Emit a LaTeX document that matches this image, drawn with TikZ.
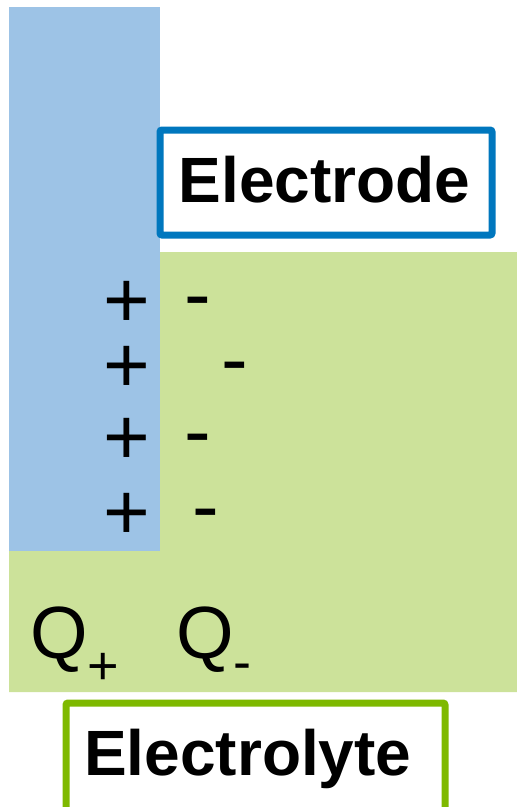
\documentclass[tikz,border=0pt]{standalone}
\usepackage{fontspec}
\setmainfont{Liberation Sans}
\definecolor{elblue}{RGB}{157,195,230}
\definecolor{elgreen}{RGB}{204,226,154}
\definecolor{boxblue}{RGB}{0,119,190}
\definecolor{boxgreen}{RGB}{126,185,0}
\tikzset{
  lbl/.style={inner sep=0pt, anchor=base west, font=\fontsize{64}{64}\selectfont\bfseries},
  sgn/.style={inner sep=0pt, anchor=base, text height=40pt, text depth=0pt, font=\fontsize{80}{80}\selectfont},
  qlbl/.style={inner sep=0pt, anchor=base west},
  labelbox/.style={line width=7pt, rounded corners=2pt, fill=white}
}
\newcommand{\qsym}[2]{{\fontsize{74}{74}\selectfont Q}\raisebox{#2}{\fontsize{54}{54}\selectfont #1}}
\begin{document}
\begin{tikzpicture}[x=1pt,y=-1pt]
\useasboundingbox (0,0) rectangle (517,807);
\clip (0,0) rectangle (517,807);
% electrode and electrolyte regions
\fill[elblue] (9,7) rectangle (160,551);
\fill[elgreen] (160,252) -- (517,252) -- (517,692) -- (9,692) -- (9,551) -- (160,551) -- cycle;
% label boxes
\draw[labelbox, draw=boxblue] (160,130) rectangle (492,235);
\draw[labelbox, draw=boxgreen] (66,703) rectangle (445,812);
\node[lbl] (electrode) at (178.5,202) {Electrode};
\node[lbl] (electrolyte) at (84,775.5) {Electrolyte};
% charges
\node[sgn] (p1) at (127.3,327.6) {+};
\node[sgn] (p2) at (127.3,392) {+};
\node[sgn] (p3) at (127.3,464) {+};
\node[sgn] (p4) at (127.3,539.6) {+};
\node[sgn] (m1) at (198.3,321.7) {-};
\node[sgn] (m2) at (235,386.1) {-};
\node[sgn] (m3) at (197.7,458.1) {-};
\node[sgn] (m4) at (206.3,533.7) {-};
% charge labels
\node[qlbl] (qplus) at (30,658) {\qsym{+}{-26pt}};
\node[qlbl] (qminus) at (176,658) {\qsym{-}{-22pt}};
\end{tikzpicture}
\end{document}
